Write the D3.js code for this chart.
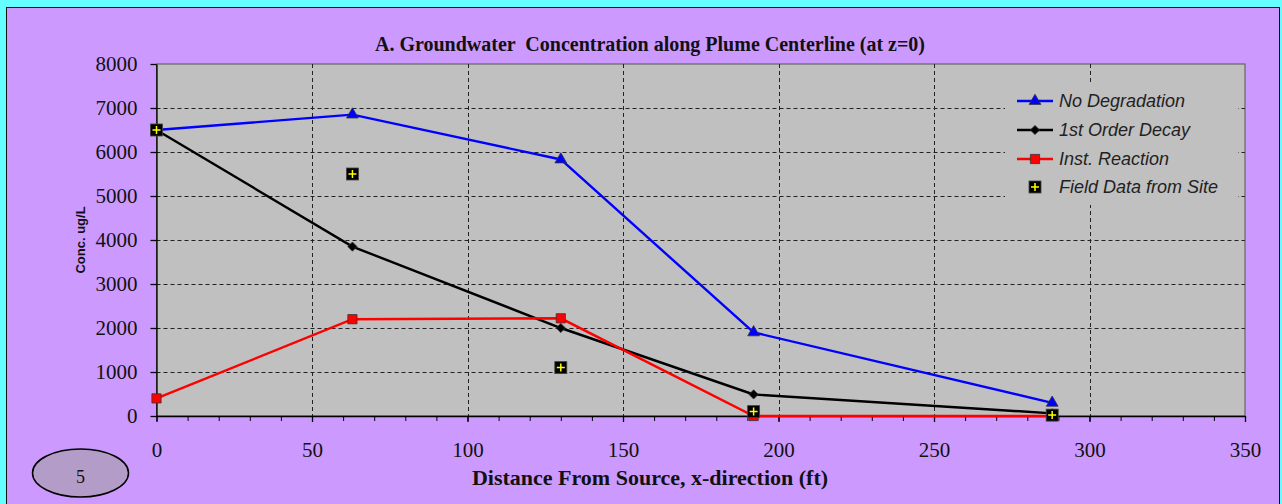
<!DOCTYPE html>
<html>
<head>
<meta charset="utf-8">
<script src="https://cdn.jsdelivr.net/npm/d3@7"></script>
<style>
  body { margin: 0; background: #66ffff; }
  svg { display: block; }
</style>
</head>
<body>
<div id="chart"></div>
<script>
// distances (ft) and concentrations (ug/L)
const distances = [0, 63, 130, 192, 288];
const noDegradation = [6500, 6850, 5830, 1900, 300];
const firstOrderDecay = [6500, 3850, 2000, 490, 60];
const instReaction = [400, 2200, 2220, 0, 0];
const fieldData = [6500, 5500, 1100, 100, 20];

const xTicks = [0, 50, 100, 150, 200, 250, 300, 350];
const xMinorTicks = d3.range(0, 351, 10);
const yTicks = [0, 1000, 2000, 3000, 4000, 5000, 6000, 7000, 8000];

const seriesNames = ['No Degradation', '1st Order Decay', 'Inst. Reaction', 'Field Data from Site'];

const W = 1282, H = 504;
const plot = {left: 156.5, right: 1245, top: 64, bottom: 416};

const svg = d3.select('#chart')
    .append('svg')
    .attr('width', W)
    .attr('height', H);

// purple panel
svg.append('rect')
    .attr('x', 6.5).attr('y', 7.5)
    .attr('width', 1273).attr('height', 510)
    .attr('fill', '#cc99ff')
    .attr('stroke', '#111')
    .attr('stroke-width', 1);

const x = d3.scaleLinear().domain([0, 350]).range([plot.left, plot.right]);
const y = d3.scaleLinear().domain([0, 8000]).range([plot.bottom, plot.top]);

// plot area
svg.append('rect')
    .attr('x', plot.left).attr('y', plot.top)
    .attr('width', plot.right - plot.left).attr('height', plot.bottom - plot.top)
    .attr('fill', '#c0c0c0')
    .attr('stroke', '#555')
    .attr('stroke-width', 1);

// dashed gridlines
const grid = svg.append('g')
    .attr('stroke', '#222')
    .attr('stroke-width', 1)
    .attr('stroke-dasharray', '4,3');
grid.selectAll('line.h')
    .data(yTicks.filter(d => d > 0 && d < 8000))
    .enter().append('line')
    .attr('x1', plot.left).attr('x2', plot.right)
    .attr('y1', d => Math.round(y(d)) + 0.5).attr('y2', d => Math.round(y(d)) + 0.5);
grid.selectAll('line.v')
    .data(xTicks.filter(d => d > 0 && d < 350))
    .enter().append('line')
    .attr('y1', plot.top).attr('y2', plot.bottom)
    .attr('x1', d => Math.round(x(d)) + 0.5).attr('x2', d => Math.round(x(d)) + 0.5);

// axes
const serif = '"Liberation Serif", "Times New Roman", serif';

const yAxis = svg.append('g')
    .attr('transform', `translate(${plot.left},0)`)
    .call(d3.axisLeft(y).tickValues(yTicks).tickFormat(d3.format('d'))
        .tickSize(6).tickPadding(13).tickSizeOuter(0));
const xAxis = svg.append('g')
    .attr('transform', `translate(0,${plot.bottom})`)
    .call(d3.axisBottom(x).tickValues(xTicks).tickFormat(d3.format('d'))
        .tickSize(6).tickPadding(20).tickSizeOuter(0));
svg.append('g')
    .attr('transform', `translate(0,${plot.bottom})`)
    .call(d3.axisBottom(x).tickValues(xMinorTicks).tickSize(5).tickFormat('').tickSizeOuter(0))
    .select('.domain').remove();

[xAxis, yAxis].forEach(a => {
    a.selectAll('text')
        .attr('font-family', serif)
        .attr('font-size', 21)
        .attr('fill', '#111');
    a.selectAll('line, path').attr('stroke', '#000').attr('stroke-width', 1.3);
});

// series lines
const line = d3.line()
    .x((d, i) => x(distances[i]))
    .y(d => y(d));

const series = [
    {values: noDegradation, color: '#0000ff', symbol: d3.symbolTriangle, size: 60, rot: 0},
    {values: firstOrderDecay, color: '#000000', symbol: d3.symbolSquare, size: 42, rot: 45},
    {values: instReaction, color: '#ff0000', symbol: d3.symbolSquare, size: 85, rot: 0}
];

series.forEach(s => {
    svg.append('path')
        .datum(s.values)
        .attr('d', line)
        .attr('fill', 'none')
        .attr('stroke', s.color)
        .attr('stroke-width', 2.4);
    svg.append('g')
        .selectAll('path')
        .data(s.values)
        .enter().append('path')
        .attr('d', d3.symbol().type(s.symbol).size(s.size))
        .attr('transform', (d, i) => `translate(${x(distances[i])},${y(d)}) rotate(${s.rot})`)
        .attr('fill', s.color)
        .attr('stroke', '#333')
        .attr('stroke-width', 0.8);
});

// field data markers: black square with yellow cross
const drawField = (g, cx, cy) => {
    g.append('rect')
        .attr('x', cx - 6).attr('y', cy - 6)
        .attr('width', 12).attr('height', 12)
        .attr('fill', '#000')
        .attr('stroke', '#444')
        .attr('stroke-width', 0.8);
    g.append('path')
        .attr('d', `M${cx - 4},${cy}H${cx + 4}M${cx},${cy - 4}V${cy + 4}`)
        .attr('stroke', '#ffff00')
        .attr('stroke-width', 1.5);
};
const fieldG = svg.append('g');
fieldData.forEach((d, i) => drawField(fieldG, x(distances[i]), y(d)));

// legend
const legend = svg.append('g');
legend.append('rect')
    .attr('x', 1005).attr('y', 82)
    .attr('width', 233).attr('height', 123)
    .attr('fill', '#c0c0c0');

const rowY = [101, 130, 159, 187];
seriesNames.forEach((name, i) => {
    const cy = rowY[i];
    if (i < 3) {
        const s = series[i];
        legend.append('line')
            .attr('x1', 1017).attr('x2', 1053)
            .attr('y1', cy).attr('y2', cy)
            .attr('stroke', s.color)
            .attr('stroke-width', 2.4);
        legend.append('path')
            .attr('d', d3.symbol().type(s.symbol).size(s.size))
            .attr('transform', `translate(1035,${cy}) rotate(${s.rot})`)
            .attr('fill', s.color)
            .attr('stroke', '#333')
            .attr('stroke-width', 0.8);
    } else {
        drawField(legend, 1035, cy);
    }
    legend.append('text')
        .attr('x', 1059).attr('y', cy)
        .attr('dy', '0.36em')
        .attr('font-family', '"Liberation Sans", Arial, sans-serif')
        .attr('font-style', 'italic')
        .attr('font-size', 18)
        .attr('fill', '#222')
        .text(name);
});

// titles
svg.append('text')
    .attr('x', 650).attr('y', 51)
    .attr('text-anchor', 'middle')
    .attr('font-family', serif)
    .attr('font-weight', 'bold')
    .attr('font-size', 20)
    .attr('fill', '#111')
    .style('white-space', 'pre')
    .text('A. Groundwater  Concentration along Plume Centerline (at z=0)');

svg.append('text')
    .attr('x', 650).attr('y', 485)
    .attr('text-anchor', 'middle')
    .attr('font-family', serif)
    .attr('font-weight', 'bold')
    .attr('font-size', 22)
    .attr('fill', '#111')
    .text('Distance From Source, x-direction (ft)');

svg.append('text')
    .attr('transform', 'translate(85,240) rotate(-90)')
    .attr('text-anchor', 'middle')
    .attr('font-family', '"Liberation Sans", Arial, sans-serif')
    .attr('font-weight', 'bold')
    .attr('font-size', 13)
    .attr('fill', '#111')
    .text('Conc. ug/L');

// page badge
svg.append('ellipse')
    .attr('cx', 80.5).attr('cy', 473)
    .attr('rx', 48).attr('ry', 24)
    .attr('fill', '#b49cc8')
    .attr('stroke', '#000')
    .attr('stroke-width', 1.5);
svg.append('text')
    .attr('x', 80.5).attr('y', 483)
    .attr('text-anchor', 'middle')
    .attr('font-family', serif)
    .attr('font-size', 18)
    .attr('fill', '#111')
    .text('5');
</script>
</body>
</html>
